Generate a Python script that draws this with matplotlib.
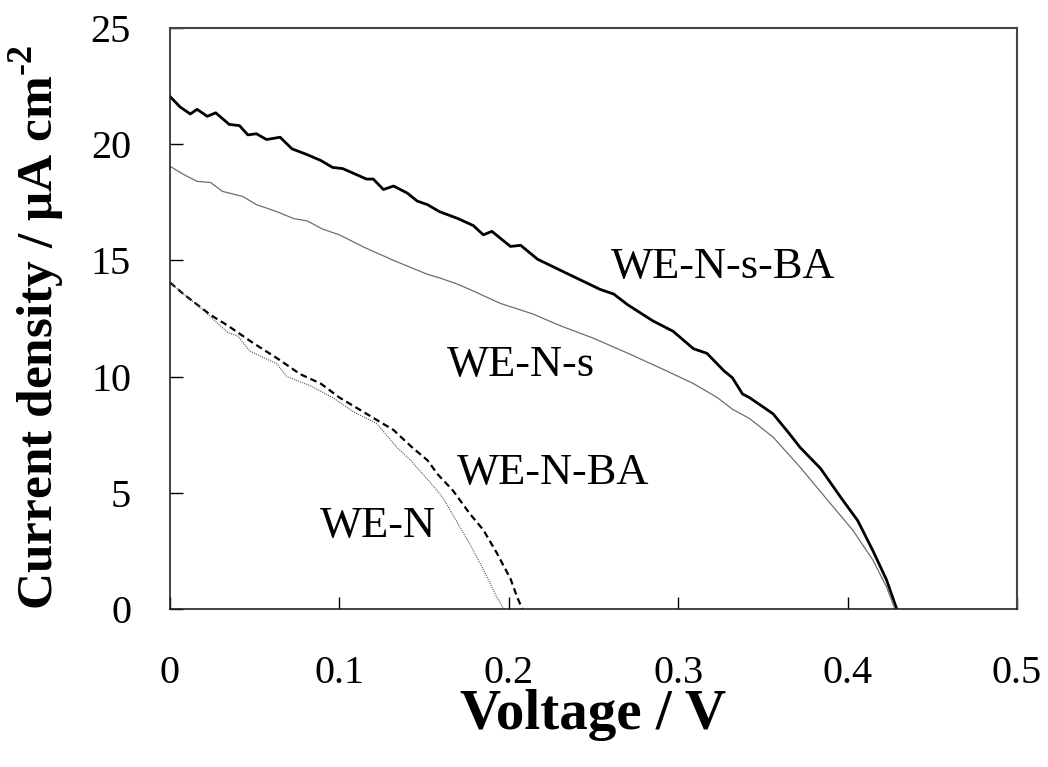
import matplotlib
matplotlib.use("Agg")
import matplotlib.pyplot as plt

plt.rcParams['font.family'] = ['Liberation Serif', 'DejaVu Serif']
plt.rcParams['mathtext.fontset'] = 'custom'
plt.rcParams['mathtext.rm'] = 'Liberation Serif'
plt.rcParams['mathtext.bf'] = 'Liberation Serif:bold'

# WE-N-s-BA (thick solid)
v_sba = [0.000, 0.006, 0.012, 0.016, 0.022, 0.027, 0.035, 0.041, 0.046, 0.051,
         0.057, 0.065, 0.072, 0.081, 0.089, 0.096, 0.102, 0.116, 0.120, 0.126,
         0.132, 0.140, 0.146, 0.152, 0.159, 0.170, 0.179, 0.185, 0.190, 0.201,
         0.207, 0.217, 0.234, 0.254, 0.262, 0.270, 0.285, 0.297, 0.309, 0.317,
         0.327, 0.332, 0.338, 0.342, 0.350, 0.356, 0.365, 0.372, 0.384, 0.396,
         0.406, 0.415, 0.423, 0.429]
j_sba = [22.05, 21.6, 21.3, 21.5, 21.2, 21.35, 20.85, 20.8, 20.4, 20.45,
         20.2, 20.3, 19.8, 19.55, 19.3, 19.0, 18.95, 18.5, 18.5, 18.05,
         18.2, 17.9, 17.55, 17.4, 17.1, 16.8, 16.5, 16.1, 16.25, 15.6,
         15.65, 15.05, 14.45, 13.75, 13.55, 13.1, 12.4, 11.95, 11.2, 11.0,
         10.25, 9.95, 9.25, 9.1, 8.7, 8.4, 7.6, 6.95, 6.05, 4.8,
         3.8, 2.5, 1.25, 0.0]

# WE-N-s (thin gray)
v_s = [0.000, 0.008, 0.016, 0.024, 0.031, 0.043, 0.051, 0.063, 0.073, 0.081,
       0.090, 0.100, 0.115, 0.132, 0.152, 0.159, 0.169, 0.177, 0.195, 0.214,
       0.230, 0.250, 0.272, 0.293, 0.309, 0.323, 0.332, 0.342, 0.356, 0.372,
       0.388, 0.403, 0.415, 0.423, 0.428]
j_s = [19.05, 18.7, 18.4, 18.35, 17.97, 17.75, 17.4, 17.1, 16.8, 16.7,
       16.35, 16.1, 15.55, 15.0, 14.4, 14.25, 14.0, 13.75, 13.15, 12.7,
       12.2, 11.65, 10.95, 10.25, 9.7, 9.1, 8.6, 8.2, 7.4, 6.1,
       4.7, 3.4, 2.1, 0.95, 0.0]

# WE-N-BA (dashed)
v_ba = [0.000, 0.008, 0.016, 0.024, 0.034, 0.049, 0.063, 0.077, 0.089, 0.100,
        0.116, 0.132, 0.143, 0.152, 0.158, 0.167, 0.177, 0.185, 0.193, 0.201,
        0.205, 0.208]
j_ba = [14.05, 13.55, 13.1, 12.65, 12.2, 11.45, 10.8, 10.1, 9.7, 9.1,
        8.4, 7.7, 6.95, 6.4, 5.8, 5.1, 4.1, 3.4, 2.4, 1.3,
        0.5, 0.0]

# WE-N (dotted)
v_n = [0.000, 0.008, 0.016, 0.025, 0.034, 0.040, 0.047, 0.053, 0.063, 0.069,
       0.083, 0.096, 0.108, 0.122, 0.134, 0.142, 0.153, 0.161, 0.169, 0.177,
       0.185, 0.193, 0.197]
j_n = [14.05, 13.55, 13.1, 12.5, 11.9, 11.75, 11.1, 10.9, 10.55, 10.0,
       9.6, 9.1, 8.5, 7.98, 6.95, 6.4, 5.5, 4.8, 3.8, 2.8,
       1.7, 0.5, 0.0]

x_ticks = [0, 0.1, 0.2, 0.3, 0.4, 0.5]
x_tick_labels = ['0', '0.1', '0.2', '0.3', '0.4', '0.5']
y_ticks = [0, 5, 10, 15, 20, 25]

fig = plt.figure(figsize=(10.48, 7.67), dpi=100)
ax = fig.add_axes([0.1622, 0.2060, 0.8082, 0.7575])

ax.plot(v_sba, j_sba, color='black', lw=2.0)
ax.plot(v_s, j_s, color='#6e6e6e', lw=0.9)
ax.plot(v_ba, j_ba, color='black', lw=1.6, linestyle=(0, (3, 1.8)))
ax.plot(v_n, j_n, color='#555555', lw=0.8, linestyle=(0, (1, 1)))

ax.text(0.26, 14.24, 'WE-N-s-BA', fontsize=32, va='baseline', ha='left')
ax.text(0.1635, 10.03, 'WE-N-s', fontsize=32, va='baseline', ha='left')
ax.text(0.1694, 5.4, 'WE-N-BA', fontsize=32, va='baseline', ha='left')
ax.text(0.0885, 3.09, 'WE-N', fontsize=32, va='baseline', ha='left')

ax.set_xlim(0, 0.5)
ax.set_ylim(0, 25)
ax.set_xticks(x_ticks)
ax.set_xticklabels(x_tick_labels)
ax.set_yticks(y_ticks)
ax.tick_params(axis='x', direction='in', length=9, width=1, pad=33, labelsize=29)
ax.tick_params(axis='y', direction='in', length=9, width=1, pad=28, labelsize=29)

for side in ['top', 'right']:
    ax.spines[side].set_color('#444444')
    ax.spines[side].set_linewidth(1.5)
for side in ['left', 'bottom']:
    ax.spines[side].set_color('#222222')
    ax.spines[side].set_linewidth(1.2)

ax.set_xlabel('Voltage / V', fontsize=41, fontweight='bold')
ax.set_ylabel('Current density / μA cm$^{\\mathbf{\u20102}}$', fontsize=37, fontweight='bold')
ax.xaxis.set_label_coords(0.5, -0.137)
ax.yaxis.set_label_coords(-0.121, 0.485)

fig.savefig('out.png', dpi=100)
